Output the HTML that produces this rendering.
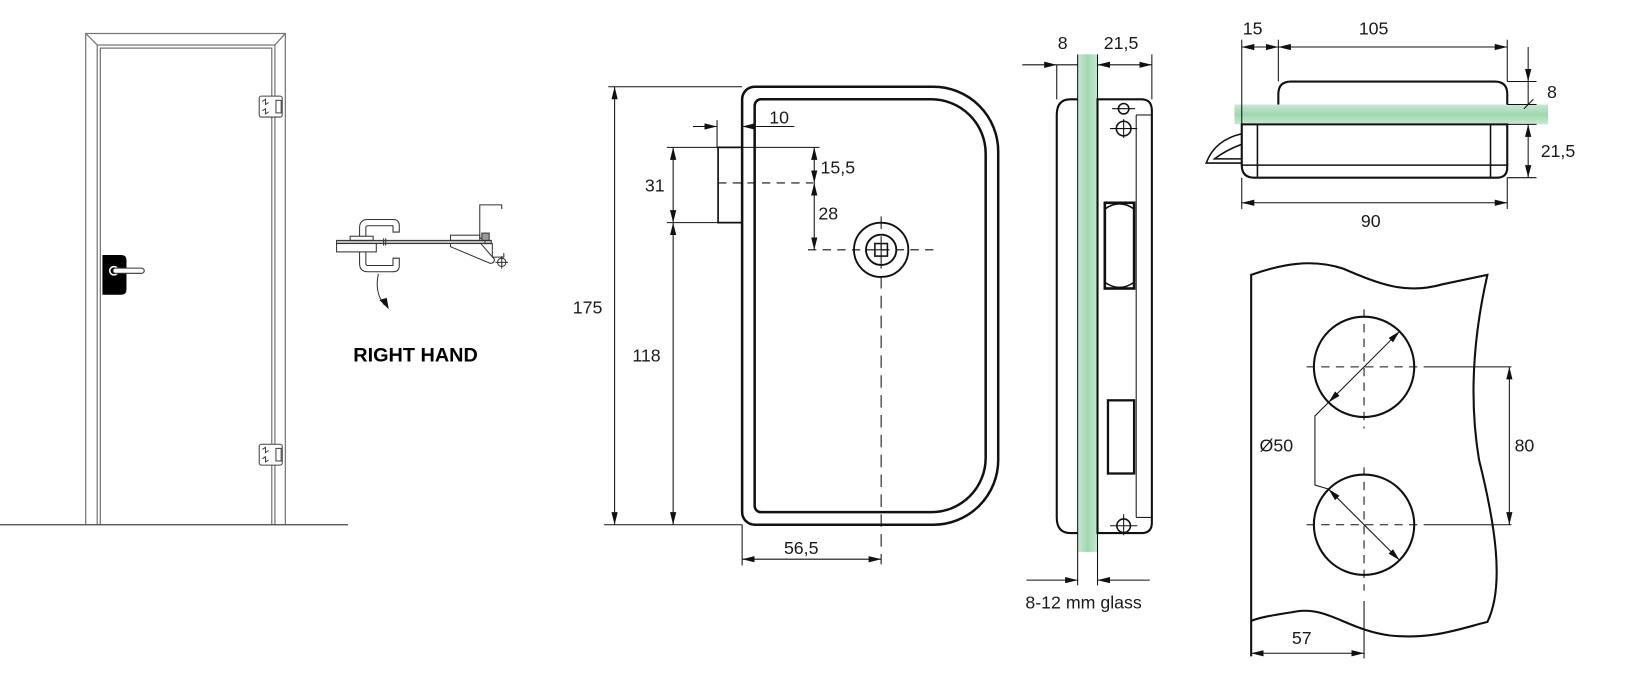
<!DOCTYPE html>
<html><head><meta charset="utf-8"><style>
html,body{margin:0;padding:0;background:#fff;}
svg{display:block;}
text{font-family:"Liberation Sans",Arial,sans-serif;fill:#1a1a1a;}
</style></head><body>
<svg width="1640" height="693" viewBox="0 0 1569 663" preserveAspectRatio="none" xmlns="http://www.w3.org/2000/svg">
<defs>
<marker id="a" viewBox="0 0 12 6" refX="12" refY="3" markerWidth="12" markerHeight="6" markerUnits="userSpaceOnUse" orient="auto-start-reverse">
<path d="M0,0 L12,3 L0,6 z" fill="#111"/></marker>
<linearGradient id="g" x1="0" x2="1" y1="0" y2="0">
<stop offset="0" stop-color="#c9e9d3"/><stop offset="0.5" stop-color="#9fd6b0"/><stop offset="1" stop-color="#c9e9d3"/></linearGradient>
<linearGradient id="gv" x1="0" x2="0" y1="0" y2="1">
<stop offset="0" stop-color="#c9e9d3"/><stop offset="0.5" stop-color="#9fd6b0"/><stop offset="1" stop-color="#c9e9d3"/></linearGradient>
</defs>

<!-- DOOR -->
<g fill="none" stroke="#777" stroke-width="1.2">
<path d="M82,502 V32 H273 V502"/>
<path d="M93,502 V43 H263 V502"/>
<path d="M96,502 V46 H260 V502"/>
<line x1="82" y1="32" x2="93" y2="43"/><line x1="273" y1="32" x2="263" y2="43"/>
</g>
<line x1="0" y1="502" x2="333" y2="502" stroke="#444" stroke-width="1.2"/>
<g fill="#fff" stroke="#444" stroke-width="1">
<rect x="248" y="92" width="22" height="20" rx="2"/><rect x="264" y="96" width="5" height="12"/>
<rect x="248" y="425" width="22" height="20" rx="2"/><rect x="264" y="429" width="5" height="12"/>
</g>
<g stroke="#444" stroke-width="1" fill="none">
<path d="M251,97 l3,-2 v5 l3,-2 M251,106 l3,-2 v5 l3,-2"/>
<path d="M251,430 l3,-2 v5 l3,-2 M251,439 l3,-2 v5 l3,-2"/>
</g>
<path d="M98,244 H116 Q121,244 121,249 V277 Q121,282 116,282 H98 Z" fill="#000"/>
<circle cx="109" cy="259" r="4" fill="none" stroke="#fff" stroke-width="1.5"/>
<rect x="108" y="256.5" width="30" height="5" rx="2.5" fill="#fff" stroke="#333" stroke-width="1"/>

<!-- RIGHT HAND sketch -->
<g fill="none" stroke="#333" stroke-width="1">
<rect x="322" y="230" width="148" height="3" fill="#bbb"/>
<rect x="322" y="233" width="38" height="8" fill="#fff"/>
<rect x="335" y="226" width="22" height="4"/>
<line x1="367" y1="228" x2="367" y2="235"/><line x1="369" y1="228" x2="369" y2="235"/>
<path d="M344,226 V218 Q344,210 352,210 H376 Q382,210 382,216 V222 H376 V216 H352 Q350,216 350,218 V226"/>
<path d="M344,241 V252 Q344,260 352,260 H376 Q382,260 382,254 V247 H376 V254 H352 Q350,254 350,252 V241"/>
<rect x="431" y="225" width="28" height="5"/>
<path d="M431,233 L431,236 L469,252 Q473,252 473,248 L460,233"/>
<path d="M480,200 V196 H459 V228 H464 V233 H471 V246 H482 V242"/>
<rect x="461" y="223" width="7" height="7" fill="#999"/>
<circle cx="480" cy="251" r="4"/><line x1="474" y1="251" x2="486" y2="251"/><line x1="480" y1="245" x2="480" y2="257"/>
<path d="M362,262 Q358,280 368,292"/>
</g>
<path d="M363,287 L372,296 L370,285 z" fill="#111"/>
<text x="338" y="346" font-size="19" font-weight="bold" style="fill:#000">RIGHT HAND</text>

<!-- FRONT VIEW -->
<g fill="none" stroke="#111" stroke-width="2.4">
<path d="M722,83 H893 A62,62 0 0 1 955,145 V440 A62,62 0 0 1 893,502 H722 A12,12 0 0 1 710,490 V95 A12,12 0 0 1 722,83 Z"/>
<path d="M728,95 H891 A52,52 0 0 1 943,147 V438 A52,52 0 0 1 891,490 H728 A6,6 0 0 1 722,484 V101 A6,6 0 0 1 728,95 Z"/>
</g>
<path d="M710,141 H687 V213 H710" fill="none" stroke="#111" stroke-width="1.6"/>
<g stroke="#111" stroke-width="1" fill="none">
<line x1="687" y1="175" x2="778" y2="175" stroke-dasharray="8,6"/>
<line x1="773" y1="239" x2="895" y2="239" stroke-dasharray="8,6"/>
<line x1="843" y1="207" x2="843" y2="540" stroke-dasharray="12,7"/>
<line x1="686" y1="115" x2="686" y2="141"/>
<line x1="663" y1="121" x2="686" y2="121" marker-end="url(#a)"/>
<line x1="734" y1="121" x2="710" y2="121" marker-end="url(#a)"/>
<line x1="710" y1="121" x2="760" y2="121"/>
<line x1="638" y1="141" x2="784" y2="141"/>
<line x1="638" y1="213" x2="687" y2="213"/>
<line x1="582" y1="83" x2="710" y2="83"/>
<line x1="578" y1="502" x2="710" y2="502"/>
<line x1="588" y1="83" x2="588" y2="502" marker-start="url(#a)" marker-end="url(#a)"/>
<line x1="644" y1="141" x2="644" y2="213" marker-start="url(#a)" marker-end="url(#a)"/>
<line x1="644" y1="213" x2="644" y2="502" marker-start="url(#a)" marker-end="url(#a)"/>
<line x1="779" y1="141" x2="779" y2="175" marker-start="url(#a)" marker-end="url(#a)"/>
<line x1="779" y1="175" x2="779" y2="239" marker-start="url(#a)" marker-end="url(#a)"/>
<line x1="710" y1="502" x2="710" y2="541"/>
<line x1="710" y1="535" x2="843" y2="535" marker-start="url(#a)" marker-end="url(#a)"/>
</g>
<g fill="none" stroke="#111" stroke-width="1.8">
<circle cx="843" cy="239" r="26"/><circle cx="843" cy="239" r="14.5"/>
<rect x="837" y="233" width="12" height="12" stroke-width="1.5"/>
</g>
<line x1="843" y1="233" x2="843" y2="245" stroke="#111"/><line x1="837" y1="239" x2="849" y2="239" stroke="#111"/>
<g font-size="17">
<text x="736" y="118">10</text>
<text x="617" y="183">31</text>
<text x="785" y="166">15,5</text>
<text x="783" y="210">28</text>
<text x="548" y="300">175</text>
<text x="605" y="346">118</text>
<text x="750" y="530">56,5</text>
</g>

<!-- SIDE VIEW -->
<rect x="1031" y="52" width="19" height="476" fill="url(#g)"/>
<g fill="none" stroke="#111" stroke-width="2">
<path d="M1031,95 H1024 Q1011,95 1011,110 V495 Q1011,510 1024,510 H1031"/>
<path d="M1050,95 H1092 Q1102,95 1102,106 V500 Q1102,510 1092,510 H1050 Z"/>
<line x1="1087" y1="110" x2="1102" y2="110" stroke-width="1"/>
<line x1="1087" y1="495" x2="1102" y2="495" stroke-width="1"/>
<line x1="1087" y1="110" x2="1087" y2="495" stroke-width="1"/>
<rect x="1057" y="194" width="28" height="82" stroke-width="2.5"/>
<path d="M1057,200 Q1071,190 1085,200 M1057,270 Q1071,280 1085,270" stroke-width="1.5"/>
<rect x="1060" y="383" width="25" height="70" stroke-width="2.2"/>
<circle cx="1075" cy="104" r="5" stroke-width="1.5"/>
<circle cx="1075" cy="123" r="7" stroke-width="1.5"/>
<circle cx="1075" cy="503" r="6.5" stroke-width="1.5"/>
</g>
<g stroke="#111" stroke-width="1" fill="none">
<path d="M1064,104 h22 M1062,123 h26 M1075,114 v18 M1062,503 h26 M1075,492 v20"/>
<line x1="1031" y1="52" x2="1031" y2="560"/>
<line x1="1050" y1="52" x2="1050" y2="560"/>
<line x1="1102" y1="52" x2="1102" y2="95"/>
<line x1="1011" y1="62" x2="1011" y2="95"/>
<line x1="978" y1="62" x2="1011" y2="62" marker-end="url(#a)"/>
<line x1="1011" y1="62" x2="1031" y2="62"/>
<line x1="1050" y1="62" x2="1102" y2="62" marker-start="url(#a)" marker-end="url(#a)"/>
<line x1="982" y1="555" x2="1031" y2="555" marker-end="url(#a)"/>
<line x1="1100" y1="555" x2="1050" y2="555" marker-end="url(#a)"/>
</g>
<g font-size="17">
<text x="1012" y="47">8</text>
<text x="1056" y="47">21,5</text>
<text x="981" y="582">8-12 mm glass</text>
</g>

<!-- TOP VIEW -->
<rect x="1181" y="100" width="300" height="19" fill="url(#gv)"/>
<g fill="none" stroke="#111" stroke-width="2">
<path d="M1223,100 V90 Q1223,78 1235,78 H1430 Q1442,78 1442,90 V100"/>
<path d="M1188,119 H1442 V160 Q1442,170 1432,170 H1200 Q1188,170 1188,158 Z"/>
<line x1="1203" y1="119" x2="1203" y2="170" stroke-width="1.5"/>
<line x1="1426" y1="119" x2="1426" y2="170" stroke-width="1.5"/>
<line x1="1188" y1="158" x2="1442" y2="158" stroke-width="1.5"/>
<path d="M1188,128 Q1162,134 1154,156 H1188 M1188,138 Q1172,144 1162,152 H1188" stroke-width="1.5"/>
</g>
<g stroke="#111" stroke-width="1" fill="none">
<line x1="1188" y1="38" x2="1188" y2="119"/>
<line x1="1223" y1="38" x2="1223" y2="78"/>
<line x1="1442" y1="38" x2="1442" y2="78"/>
<line x1="1188" y1="45" x2="1223" y2="45" marker-start="url(#a)" marker-end="url(#a)"/>
<line x1="1223" y1="45" x2="1442" y2="45" marker-start="url(#a)" marker-end="url(#a)"/>
<line x1="1442" y1="78" x2="1470" y2="78"/>
<line x1="1442" y1="100" x2="1470" y2="100"/>
<line x1="1442" y1="119" x2="1470" y2="119"/>
<line x1="1442" y1="170" x2="1470" y2="170"/>
<line x1="1462" y1="45" x2="1462" y2="78" marker-end="url(#a)"/>
<line x1="1462" y1="78" x2="1462" y2="100"/>
<line x1="1458" y1="104" x2="1467" y2="95"/>
<line x1="1462" y1="119" x2="1462" y2="170" marker-start="url(#a)" marker-end="url(#a)"/>
<line x1="1188" y1="170" x2="1188" y2="200"/>
<line x1="1442" y1="170" x2="1442" y2="200"/>
<line x1="1188" y1="194" x2="1442" y2="194" marker-start="url(#a)" marker-end="url(#a)"/>
</g>
<g font-size="17">
<text x="1189" y="33">15</text>
<text x="1300" y="33">105</text>
<text x="1480" y="94">8</text>
<text x="1474" y="150">21,5</text>
<text x="1302" y="217">90</text>
</g>

<!-- CUTOUT VIEW -->
<g fill="none" stroke="#111" stroke-width="2">
<path d="M1197,628 V263 C1225,253 1255,247 1285,257 C1320,272 1345,282 1380,272 L1423,263 C1410,320 1405,380 1415,440 C1430,500 1440,560 1423,595 C1395,602 1370,612 1330,608 C1290,603 1270,580 1240,585 C1222,588 1207,590 1197,594"/>
<circle cx="1305" cy="351" r="48"/>
<circle cx="1305" cy="502" r="48"/>
</g>
<g stroke="#111" stroke-width="1" fill="none">
<line x1="1305" y1="296" x2="1305" y2="410" stroke-dasharray="8,6"/>
<line x1="1305" y1="447" x2="1305" y2="565" stroke-dasharray="8,6"/>
<line x1="1305" y1="575" x2="1305" y2="630"/>
<line x1="1250" y1="351" x2="1357" y2="351" stroke-dasharray="8,6"/>
<line x1="1250" y1="502" x2="1357" y2="502" stroke-dasharray="8,6"/>
<line x1="1362" y1="351" x2="1446" y2="351"/>
<line x1="1362" y1="502" x2="1446" y2="502"/>
<line x1="1444" y1="351" x2="1444" y2="502" marker-start="url(#a)" marker-end="url(#a)"/>
<line x1="1271" y1="385" x2="1339" y2="317" marker-start="url(#a)" marker-end="url(#a)"/>
<line x1="1271" y1="468" x2="1339" y2="536" marker-start="url(#a)" marker-end="url(#a)"/>
<path d="M1271,385 L1258,398 V464 L1271,468"/>
<line x1="1197" y1="625" x2="1305" y2="625" marker-start="url(#a)" marker-end="url(#a)"/>
</g>
<g font-size="17">
<text x="1205" y="432">Ø50</text>
<text x="1449" y="432">80</text>
<text x="1236" y="616">57</text>
</g>
</svg>
</body></html>
